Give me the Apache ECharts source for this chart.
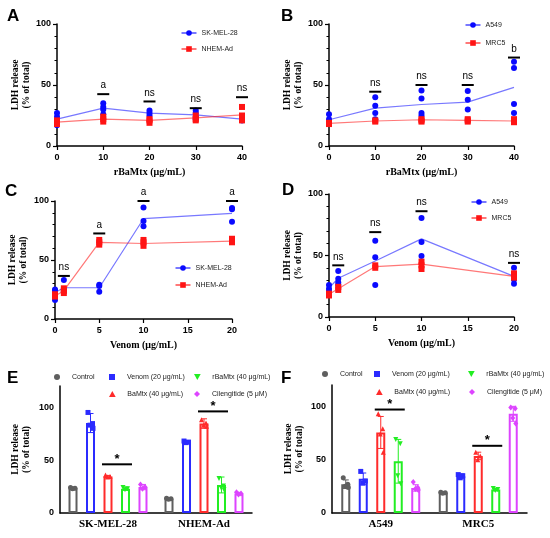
<!DOCTYPE html>
<html>
<head>
<meta charset="utf-8">
<script src="https://cdn.jsdelivr.net/npm/echarts@6/dist/echarts.min.js"></script>
<style>
  html, body { margin: 0; padding: 0; background: #fff; }
  #chart { width: 550px; height: 538px; }
</style>
</head>
<body>
<div id="chart"></div>
<script>
// ---------- data ----------
const RBAMTX_DOSE = [0, 10, 20, 30, 40]
const VENOM_DOSE = [0, 1, 5, 10, 20]

// A: rBaMtx, SK-MEL-28 vs NHEM-Ad
const A_SKMEL_PTS = [[27, 24, 21, 17], [35, 32, 30, 26], [29, 27, 25], [29, 27, 24, 22], [24, 22, 21]]
const A_SKMEL_MEAN = [22, 31, 27, 25.5, 22]
const A_NHEM_PTS = [[21, 20, 18], [24, 22, 20], [22, 21, 19], [25, 22, 21], [32, 25, 21]]
const A_NHEM_MEAN = [19.5, 22, 21, 23, 25.5]
const A_SIG_X = [10, 20, 30, 40]
const A_SIG_Y = [42.5, 36.5, 31, 40]
const A_SIG_TXT = ['a', 'ns', 'ns', 'ns']

// B: rBaMtx, A549 vs MRC5
const B_A549_PTS = [[26, 22, 20, 18], [40, 33, 27, 22], [45.5, 39, 27, 25], [45, 38, 30], [69, 64, 34.5, 27]]
const B_A549_MEAN = [21.5, 31, 34, 36, 48]
const B_MRC5_PTS = [[19, 18], [21, 20], [22, 21, 20], [22, 21, 20], [22, 21, 19.5]]
const B_MRC5_MEAN = [18.5, 20.5, 21.5, 21, 20.5]
const B_SIG_X = [10, 20, 30, 40]
const B_SIG_Y = [44.5, 50, 50, 72.5]
const B_SIG_TXT = ['ns', 'ns', 'ns', 'b']

// C: venom, SK-MEL-28 vs NHEM-Ad
const C_SKMEL_PTS = [[25, 24, 16], [33, 25, 23], [29, 28, 23], [94.5, 83, 78.5], [94, 93, 82.5]]
const C_SKMEL_MEAN = [22.5, 26.5, 26.5, 85, 89.5]
const C_NHEM_PTS = [[21, 19], [26, 24, 22], [67, 65, 63], [67, 65, 62], [68, 66, 65]]
const C_NHEM_MEAN = [19.5, 24, 65, 64, 66]
const C_SIG_X = [1, 5, 10, 20]
const C_SIG_Y = [36.5, 72.5, 100, 100]
const C_SIG_TXT = ['ns', 'a', 'a', 'a']

// D: venom, A549 vs MRC5
const D_A549_PTS = [[26, 23, 21, 19], [37.5, 31, 28, 26], [62, 48.5, 26], [80.5, 61, 49.5], [40, 30.5, 27]]
const D_A549_MEAN = [23.5, 31.5, 45.5, 63.5, 33]
const D_MRC5_PTS = [[19, 17.5], [24.5, 22], [42, 40], [45, 42, 39], [35.5, 33, 32]]
const D_MRC5_MEAN = [18.5, 23, 41, 43, 33]
const D_SIG_X = [1, 5, 10, 20]
const D_SIG_Y = [42, 69, 86, 44]
const D_SIG_TXT = ['ns', 'ns', 'ns', 'ns']

// E / F: treatments
const TREATMENTS = ['Control', 'Venom (20 μg/mL)', 'BaMtx (40 μg/mL)', 'rBaMtx (40 μg/mL)', 'Cilengitide (5 μM)']
const E_CELLS = ['SK-MEL-28', 'NHEM-Ad']
const E_MEAN = [[23.5, 13.5], [85, 67], [34.5, 84.5], [23, 26.5], [24.5, 18.5]]
const E_SD = [[1, 1], [9, 1], [1, 4.5], [1.5, 7.5], [2.5, 1]]
const E_PTS = [
  [[24, 23.5, 23], [14, 13.5, 13]],
  [[95, 84.5, 83, 80], [68, 67, 66.5]],
  [[36, 34.5, 34], [88, 85, 83, 82]],
  [[24, 23, 22], [32.5, 25.5, 24, 22]],
  [[27, 24.5, 23], [19.5, 18.5, 17.5]]
]
const E_SIG_Y = [46, 96]

const F_CELLS = ['A549', 'MRC5']
const F_MEAN = [[27, 19], [32, 34.5], [75.5, 53.5], [48.5, 22], [23.5, 93]]
const F_SD = [[4, 0.8], [5.5, 2], [15, 3.5], [20.5, 1], [3, 7]]
const F_PTS = [
  [[33, 27, 25, 24], [19.5, 19, 18.5]],
  [[39, 30, 28], [36, 35, 33]],
  [[93, 79, 74, 57], [57, 53.5, 50]],
  [[69, 65, 35, 27.5], [23, 22, 21]],
  [[29, 24, 22.5, 21.5], [99, 98, 89, 84]]
]
const F_SIG_Y = [97, 63]

// ---------- styles ----------
const SANS = 'Liberation Sans'
const SERIF = 'Liberation Serif'
const BLUE = '#0a0aff'
const RED = '#ff1414'
const BLUE_LINE = 'rgba(30,30,255,0.6)'
const RED_LINE = 'rgba(255,30,30,0.6)'
const TREAT_COLORS = ['#5f5f5f', '#2b2bff', '#ff2b2b', '#22ee22', '#dd44ff']
const TREAT_SHAPES = ['circle', 'rect', 'triangle', 'invtri', 'diamond']
const TREAT_ICONS = [
  'path://M5,0A5,5,0,1,1,5,10A5,5,0,1,1,5,0Z',
  'path://M0,0H10V10H0Z',
  'path://M5,0L10,9L0,9Z',
  'path://M0,0L10,0L5,9Z',
  'path://M5,0L10,5L5,10L0,5Z'
]
const BAR_W = 9
const BAR_STEP = 17.5
const JITTER = [-2.5, 2, -0.5, 2.5]

const GRIDS = [
  { left: 57, top: 24, width: 185, height: 122 },
  { left: 329, top: 24, width: 185, height: 122 },
  { left: 55, top: 201, width: 177, height: 118 },
  { left: 329, top: 194, width: 185, height: 123 },
  { left: 60, top: 386, width: 192, height: 127 },
  { left: 332, top: 385, width: 195, height: 128 }
]
const Y_NAME_GAP = [24, 24, 26, 25, 28, 27]

const tickLabel = { color: '#000', fontFamily: SANS, fontWeight: 'bold', fontSize: 9 }
const nameStyle = { color: '#000', fontFamily: SERIF, fontWeight: 'bold', fontSize: 10 }
const axisLine = { show: true, lineStyle: { color: '#000', width: 1.5 } }

const xAxes = []
const yAxes = []
const series = []
const legends = []

function makeYAxis(gi, bars) {
  const ax = {
    type: 'value', gridIndex: gi, min: 0,
    axisLine: axisLine,
    splitLine: { show: false },
    axisLabel: Object.assign({ margin: 6 }, tickLabel),
    name: 'LDH release\n(% of total)',
    nameLocation: 'middle', nameRotate: 90, nameGap: Y_NAME_GAP[gi],
    nameTextStyle: Object.assign({}, nameStyle, { fontSize: 9.5, lineHeight: 11 })
  }
  if (bars) {
    ax.max = 120
    ax.interval = 10
    ax.axisTick = { length: 3.5, lineStyle: { color: '#000', width: 1 } }
    ax.axisLabel.formatter = v => (v % 50 === 0 ? String(v) : '')
  } else {
    ax.max = 100
    ax.interval = 50
    ax.axisTick = { length: 4, lineStyle: { color: '#000', width: 1.2 } }
    ax.minorTick = { show: true, splitNumber: 5, length: 2.5, lineStyle: { color: '#000', width: 1 } }
    ax.minorSplitLine = { show: false }
  }
  return ax
}

function flatPts(xs, pts) {
  const out = []
  pts.forEach((col, i) => col.forEach(v => out.push([xs[i], v])))
  return out
}

function sigRender(labels) {
  return function (params, api) {
    const p = api.coord([api.value(0), api.value(1)])
    return {
      type: 'group',
      children: [
        { type: 'line', shape: { x1: p[0] - 6, y1: p[1], x2: p[0] + 6, y2: p[1] }, style: { stroke: '#000', lineWidth: 2 } },
        { type: 'text', x: p[0], y: p[1] - 3.5,
          style: { text: labels[params.dataIndex], fill: '#000', fontFamily: SANS, fontSize: 10, align: 'center', verticalAlign: 'bottom' } }
      ]
    }
  }
}

// line legends: cx is the icon centre; symbol legends: icon is drawn at the left of the item
function legendItem(name, cx, cy, w, icon, color) {
  const d = { name: name }
  if (icon) {
    d.icon = icon
    d.itemStyle = { color: color, borderWidth: 0 }
  }
  return {
    data: [d], left: icon ? cx - 3 : cx - w / 2, top: cy - 5, padding: 0,
    itemWidth: w, itemHeight: icon ? 6 : 7, selectedMode: false,
    textStyle: { fontFamily: SANS, fontSize: 7, color: '#222', lineHeight: 10 }
  }
}

function linePanel(gi, xs, xmax, xstep, xname, sets, sigX, sigY, sigTxt, legPos) {
  xAxes.push({
    type: 'value', gridIndex: gi, min: 0, max: xmax, interval: xstep,
    axisLine: axisLine,
    axisTick: { length: 4, lineStyle: { color: '#000', width: 1.2 } },
    splitLine: { show: false },
    axisLabel: Object.assign({ margin: 7 }, tickLabel),
    name: xname, nameLocation: 'middle', nameGap: 21, nameTextStyle: nameStyle
  })
  yAxes.push(makeYAxis(gi, false))
  sets.forEach(s => {
    series.push({
      type: 'line', name: s.name, xAxisIndex: gi, yAxisIndex: gi,
      data: xs.map((x, i) => [x, s.mean[i]]),
      symbol: s.symbol, showSymbol: false, silent: true,
      itemStyle: { color: s.color }, lineStyle: { color: s.line, width: 1.2 }, z: 2
    })
  })
  sets.forEach(s => {
    series.push({
      type: 'scatter', name: s.name, xAxisIndex: gi, yAxisIndex: gi,
      data: flatPts(xs, s.pts), symbol: s.symbol, symbolSize: 6,
      itemStyle: { color: s.color, opacity: 1 }, z: 3
    })
  })
  series.push({
    type: 'custom', xAxisIndex: gi, yAxisIndex: gi, silent: true,
    data: sigX.map((x, i) => [x, sigY[i]]), renderItem: sigRender(sigTxt), z: 4
  })
  sets.forEach((s, i) => legends.push(legendItem(s.name, legPos[i][0], legPos[i][1], 15)))
}

function marker(shape, x, y, s, color) {
  const h = s / 2
  const st = { fill: color }
  if (shape === 'circle') return { type: 'circle', shape: { cx: x, cy: y, r: h }, style: st }
  if (shape === 'rect') return { type: 'rect', shape: { x: x - h, y: y - h, width: s, height: s }, style: st }
  let pts
  if (shape === 'triangle') pts = [[x, y - h], [x + h, y + h], [x - h, y + h]]
  else if (shape === 'invtri') pts = [[x - h, y - h], [x + h, y - h], [x, y + h]]
  else pts = [[x, y - h - 0.5], [x + h, y], [x, y + h + 0.5], [x - h, y]]
  return { type: 'polygon', shape: { points: pts }, style: st }
}

function overlay(i, sd, pts, color, shape) {
  return function (params, api) {
    const cat = api.value(0)
    const m = api.value(1)
    const e = sd[params.dataIndex]
    const cx = api.coord([cat, m])[0] + (i - 2) * BAR_STEP
    const yTop = api.coord([cat, m + e])[1]
    const yBot = api.coord([cat, m - e])[1]
    const st = { stroke: color, lineWidth: 1 }
    const kids = [
      { type: 'line', shape: { x1: cx, y1: yTop, x2: cx, y2: yBot }, style: st },
      { type: 'line', shape: { x1: cx - 3, y1: yTop, x2: cx + 3, y2: yTop }, style: st },
      { type: 'line', shape: { x1: cx - 3, y1: yBot, x2: cx + 3, y2: yBot }, style: st }
    ]
    pts[params.dataIndex].forEach((v, k) => {
      kids.push(marker(shape, cx + JITTER[k % JITTER.length], api.coord([cat, v])[1], 5, color))
    })
    return { type: 'group', children: kids }
  }
}

function starRender(params, api) {
  const c = api.coord([api.value(0), api.value(1)])
  const x1 = c[0] - 6
  const x2 = c[0] + BAR_STEP + 6.5
  return {
    type: 'group',
    children: [
      { type: 'line', shape: { x1: x1, y1: c[1], x2: x2, y2: c[1] }, style: { stroke: '#000', lineWidth: 2 } },
      { type: 'text', x: (x1 + x2) / 2, y: c[1] - 5,
        style: { text: '*', fill: '#000', fontFamily: SANS, fontWeight: 'bold', fontSize: 13, align: 'center', verticalAlign: 'middle' } }
    ]
  }
}

function barPanel(gi, cats, means, sds, pts, sigY, legPos) {
  xAxes.push({
    type: 'category', gridIndex: gi, data: cats,
    axisLine: axisLine,
    axisTick: { alignWithLabel: true, length: 4, lineStyle: { color: '#000', width: 1.2 } },
    axisLabel: { margin: 6, interval: 0, color: '#000', fontFamily: SERIF, fontWeight: 'bold', fontSize: 11 }
  })
  yAxes.push(makeYAxis(gi, true))
  TREATMENTS.forEach((name, i) => {
    series.push({
      type: 'bar', name: name, xAxisIndex: gi, yAxisIndex: gi, data: means[i],
      barWidth: BAR_W, barGap: ((BAR_STEP - BAR_W) / BAR_W * 100).toFixed(1) + '%',
      itemStyle: { color: '#fff', borderColor: TREAT_COLORS[i], borderWidth: 2 }, z: 2, silent: true
    })
  })
  TREATMENTS.forEach((name, i) => {
    series.push({
      type: 'custom', name: name, xAxisIndex: gi, yAxisIndex: gi, silent: true,
      itemStyle: { color: TREAT_COLORS[i] },
      data: means[i].map((m, c) => [c, m]),
      renderItem: overlay(i, sds[i], pts[i], TREAT_COLORS[i], TREAT_SHAPES[i]), z: 3
    })
  })
  series.push({
    type: 'custom', xAxisIndex: gi, yAxisIndex: gi, silent: true,
    data: sigY.map((y, c) => [c, y]), renderItem: starRender, z: 4
  })
  TREATMENTS.forEach((name, i) => {
    legends.push(legendItem(name, legPos[i][0], legPos[i][1], 20, TREAT_ICONS[i], TREAT_COLORS[i]))
  })
}

linePanel(0, RBAMTX_DOSE, 40, 10, 'rBaMtx (μg/mL)', [
  { name: 'SK-MEL-28', pts: A_SKMEL_PTS, mean: A_SKMEL_MEAN, color: BLUE, line: BLUE_LINE, symbol: 'circle' },
  { name: 'NHEM-Ad', pts: A_NHEM_PTS, mean: A_NHEM_MEAN, color: RED, line: RED_LINE, symbol: 'rect' }
], A_SIG_X, A_SIG_Y, A_SIG_TXT, [[188, 33], [188, 49]])

linePanel(1, RBAMTX_DOSE, 40, 10, 'rBaMtx (μg/mL)', [
  { name: 'A549', pts: B_A549_PTS, mean: B_A549_MEAN, color: BLUE, line: BLUE_LINE, symbol: 'circle' },
  { name: 'MRC5', pts: B_MRC5_PTS, mean: B_MRC5_MEAN, color: RED, line: RED_LINE, symbol: 'rect' }
], B_SIG_X, B_SIG_Y, B_SIG_TXT, [[472, 25], [472, 43]])

linePanel(2, VENOM_DOSE, 20, 5, 'Venom (μg/mL)', [
  { name: 'SK-MEL-28', pts: C_SKMEL_PTS, mean: C_SKMEL_MEAN, color: BLUE, line: BLUE_LINE, symbol: 'circle' },
  { name: 'NHEM-Ad', pts: C_NHEM_PTS, mean: C_NHEM_MEAN, color: RED, line: RED_LINE, symbol: 'rect' }
], C_SIG_X, C_SIG_Y, C_SIG_TXT, [[182, 268], [182, 285]])

linePanel(3, VENOM_DOSE, 20, 5, 'Venom (μg/mL)', [
  { name: 'A549', pts: D_A549_PTS, mean: D_A549_MEAN, color: BLUE, line: BLUE_LINE, symbol: 'circle' },
  { name: 'MRC5', pts: D_MRC5_PTS, mean: D_MRC5_MEAN, color: RED, line: RED_LINE, symbol: 'rect' }
], D_SIG_X, D_SIG_Y, D_SIG_TXT, [[478, 202], [478, 218]])

// legend order follows TREATMENTS: Control, Venom, BaMtx, rBaMtx, Cilengitide
barPanel(4, E_CELLS, E_MEAN, E_SD, E_PTS, E_SIG_Y, [[57, 377], [112, 377], [112, 394], [197, 377], [197, 394]])
barPanel(5, F_CELLS, F_MEAN, F_SD, F_PTS, F_SIG_Y, [[325, 374], [377, 374], [379, 392], [471, 374], [472, 392]])

const LETTERS = [['A', 7, 16], ['B', 281, 16], ['C', 5, 191], ['D', 282, 190], ['E', 7, 378], ['F', 281, 378]]

const chart = echarts.init(document.getElementById('chart'))
chart.setOption({
  animation: false,
  backgroundColor: '#fff',
  grid: GRIDS,
  xAxis: xAxes,
  yAxis: yAxes,
  legend: legends,
  series: series,
  graphic: LETTERS.map(l => ({
    type: 'text', x: l[1], y: l[2],
    style: { text: l[0], fill: '#000', fontFamily: SANS, fontWeight: 'bold', fontSize: 17, verticalAlign: 'middle' }
  }))
})
</script>
</body>
</html>
